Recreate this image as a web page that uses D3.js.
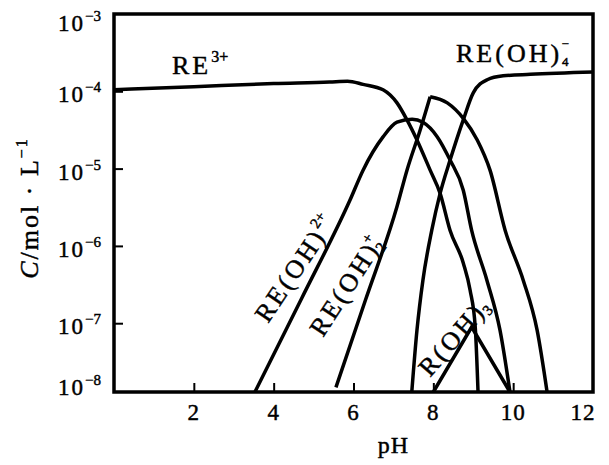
<!DOCTYPE html>
<html>
<head>
<meta charset="utf-8">
<script src="https://cdn.jsdelivr.net/npm/d3@7"></script>
<style>
  html, body { margin: 0; padding: 0; background: #fff; }
  svg { display: block; }
  text { font-family: "Liberation Serif", "Times New Roman", serif; fill: #000; stroke: #000; stroke-width: 0.45px; }
</style>
</head>
<body>
<svg id="chart" width="609" height="465"></svg>
<script>
// ---- data (pH, log10 C) ----
const xTicks = [2, 4, 6, 8, 10, 12];
const yExponents = [-3, -4, -5, -6, -7, -8];

const re3 = [[0,-3.98],[2,-3.94],[4,-3.90],[5.4,-3.88],[5.85,-3.87],[6.24,-3.91],[6.74,-3.98],
  [7.09,-4.15],[7.34,-4.37],[7.59,-4.63],[7.92,-5.02],[8.17,-5.32],[8.42,-5.80],[8.75,-6.22],
  [8.92,-6.57],[9.05,-7.05],[9.12,-7.89]];
const reOH = [[3.53,-7.89],[4.7,-6.68],[5.91,-5.41],[6.24,-5.02],[6.74,-4.59],[7.09,-4.40],
  [7.47,-4.36],[7.74,-4.40],[8.10,-4.59],[8.42,-4.89],[8.75,-5.28],[8.96,-5.80],[9.34,-6.44],
  [9.67,-7.09],[9.92,-7.89]];
const reOH2Left = [[5.56,-7.83],[6.30,-6.70],[7.09,-5.49],[7.34,-5.02],[7.67,-4.50],[7.92,-4.07]];
const reOH2Right = [[7.92,-4.07],[8.35,-4.15],[8.75,-4.35],[9.10,-4.63],[9.42,-5.02],[9.80,-5.80],
  [10.25,-6.44],[10.60,-7.09],[10.85,-7.89]];
const reOH4 = [[7.46,-7.89],[7.59,-7.09],[7.74,-6.44],[7.96,-5.80],[8.17,-5.32],[8.42,-4.89],
  [8.75,-4.37],[9.00,-4.02],[9.35,-3.85],[9.75,-3.80],[10.43,-3.78],[12.0,-3.75]];
const rOH3 = [[8.0,-7.89],[8.96,-7.05],[9.92,-7.89]];

// ---- scales ----
const mLeft = 114, mRight = 593, mTop = 14, mBottom = 392;
const x = d3.scaleLinear().domain([0, 12]).range([mLeft, mRight]);
const y = d3.scaleLog().domain([1e-3, Math.pow(10, -7.89)]).range([mTop, mBottom]);

const svg = d3.select("#chart");
svg.append("rect").attr("width", 609).attr("height", 465).attr("fill", "#fff");

// ---- axes (inward ticks) ----
const xAxis = d3.axisBottom(x).tickValues(xTicks.filter(v => v < 12)).tickSize(-9).tickSizeOuter(0).tickFormat("");
svg.append("g").attr("transform", `translate(0,${mBottom})`).call(xAxis)
  .call(g => g.select(".domain").remove())
  .call(g => g.selectAll("line").attr("stroke", "#000").attr("stroke-width", 2));

const yTickVals = yExponents.filter(e => e < -3 && e > -8).map(e => Math.pow(10, e));
const yAxis = d3.axisLeft(y).tickValues(yTickVals).tickSize(-9).tickSizeOuter(0).tickFormat("");
svg.append("g").attr("transform", `translate(${mLeft},0)`).call(yAxis)
  .call(g => g.select(".domain").remove())
  .call(g => g.selectAll("line").attr("stroke", "#000").attr("stroke-width", 2));

// frame
svg.append("rect").attr("x", mLeft).attr("y", mTop)
  .attr("width", mRight - mLeft).attr("height", mBottom - mTop)
  .attr("fill", "none").attr("stroke", "#000").attr("stroke-width", 3.5);

// x tick labels
svg.append("g").selectAll("text").data(xTicks).join("text")
  .attr("x", d => x(d) + (d === 12 ? -10 : 0))
  .attr("y", 420)
  .attr("text-anchor", "middle")
  .attr("font-size", 23)
  .attr("letter-spacing", 1)
  .text(d => d);

// y tick labels 10^n
const yl = svg.append("g").selectAll("text").data(yExponents).join("text")
  .attr("x", 101)
  .attr("y", d => Math.max(31, Math.min(395, y(Math.pow(10, d)) + 11)))
  .attr("text-anchor", "end");
yl.append("tspan").attr("font-size", 23).attr("letter-spacing", 2).text("10");
yl.append("tspan").attr("font-size", 15).attr("dy", -10).text(d => "−" + (-d));

// axis titles
svg.append("text").attr("x", x(7)).attr("y", 453).attr("text-anchor", "middle")
  .attr("font-size", 24).attr("letter-spacing", 1).text("pH");

const yt = svg.append("text").attr("transform", "translate(38,208) rotate(-90)")
  .attr("text-anchor", "middle").attr("font-size", 26).attr("letter-spacing", 2);
yt.append("tspan").attr("font-style", "italic").text("C");
yt.append("tspan").text("/mol · L");
yt.append("tspan").attr("font-size", 16).attr("dy", -11).text("−1");

// ---- curves ----
const line = d3.line().x(d => x(d[0])).y(d => y(Math.pow(10, d[1]))).curve(d3.curveMonotoneX);
const lineLin = d3.line().x(d => x(d[0])).y(d => y(Math.pow(10, d[1])));
const curves = svg.append("g").attr("fill", "none").attr("stroke", "#000")
  .attr("stroke-width", 3.5).attr("stroke-linejoin", "miter").attr("stroke-linecap", "butt");
[re3, reOH, reOH2Left, reOH2Right, reOH4].forEach(s => curves.append("path").attr("d", line(s)));
curves.append("path").attr("d", lineLin(rOH3));

// ---- curve labels ----
const FS = 26, SS = 15;
function label(px, py, angle, build) {
  const t = svg.append("text").attr("transform", `translate(${px},${py}) rotate(${angle})`)
    .attr("font-size", FS).attr("letter-spacing", 3);
  build(t);
  return t;
}
label(172, 74, 0, t => {
  t.append("tspan").text("RE");
  t.append("tspan").attr("font-size", 16).attr("letter-spacing", 0).attr("dy", -12).text("3+");
});
label(456, 62, 0, t => {
  t.append("tspan").text("RE(OH)");
  t.append("tspan").attr("font-size", 13).attr("letter-spacing", 0).attr("dy", 4).attr("dx", 0).text("4");
  t.append("tspan").attr("font-size", 13).attr("letter-spacing", 0).attr("dy", -18).attr("dx", -7).text("−");
});
label(268, 324, -56, t => {
  t.append("tspan").text("RE(OH)");
  t.append("tspan").attr("font-size", SS).attr("letter-spacing", 0).attr("dy", -12).text("2+");
});
label(323, 338, -57, t => {
  t.append("tspan").text("RE(OH)");
  t.append("tspan").attr("font-size", SS).attr("letter-spacing", 0).attr("dy", 4).attr("dx", -2).text("2");
  t.append("tspan").attr("font-size", SS).attr("letter-spacing", 0).attr("dy", -16).attr("dx", -8).text("+");
});
label(430, 378, -49, t => {
  t.append("tspan").text("R(OH)");
  t.append("tspan").attr("font-size", SS).attr("letter-spacing", 0).attr("dy", 4).attr("dx", -2).text("3");
});
</script>
</body>
</html>
